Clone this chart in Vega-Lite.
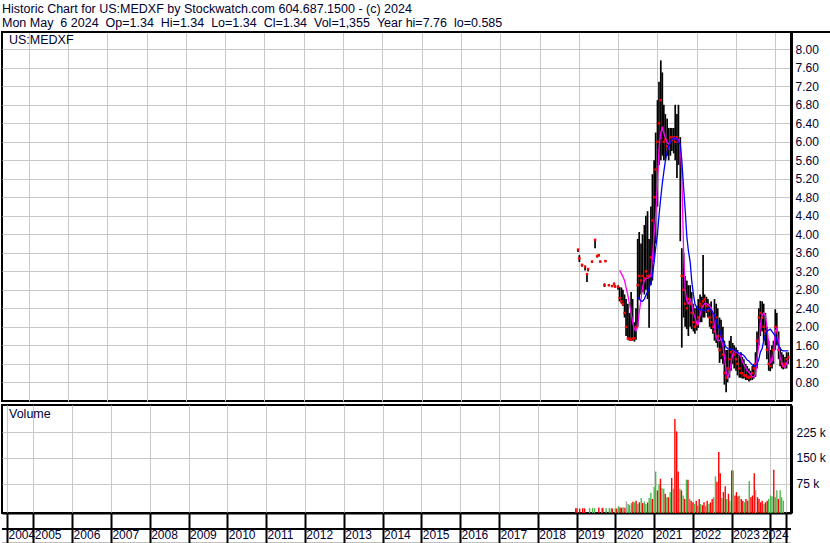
{
  "$schema": "https://vega.github.io/schema/vega-lite/v6.json",
  "background": "white",
  "padding": {"left": 0, "top": 2, "right": 0, "bottom": 0},
  "autosize": {"type": "pad"},
  "spacing": 2,
  "config": {
    "font": "Liberation Sans",
    "view": {"stroke": "black", "strokeWidth": 2},
    "axis": {"labelFont": "Liberation Sans", "labelFontSize": 12, "labelColor": "#000033", "gridColor": "#c8c8c8", "gridWidth": 1, "gridOpacity": 1, "tickCount": 40}
  },
  "title": {
    "text": ["Historic Chart for US:MEDXF by Stockwatch.com 604.687.1500 - (c) 2024", "Mon May \u00a06 2024 \u00a0Op=1.34 \u00a0Hi=1.34 \u00a0Lo=1.34 \u00a0Cl=1.34 \u00a0Vol=1,355 \u00a0Year hi=7.76 \u00a0lo=0.585"],
    "anchor": "start", "frame": "bounds", "fontSize": 12.5, "fontWeight": "normal", "font": "Liberation Sans", "color": "#000033", "lineHeight": 14, "offset": 1, "dx": 2
  },
  "datasets": {
    "price": [
      {"d": "2018-12-25", "h": 3.68, "l": 3.62, "c": 3.67, "m1": null, "m2": null},
      {"d": "2019-01-06", "h": 3.55, "l": 3.40, "c": 3.48, "m1": null, "m2": null},
      {"d": "2019-01-31", "h": 3.36, "l": 3.30, "c": 3.34, "m1": null, "m2": null},
      {"d": "2019-02-28", "h": 3.32, "l": 3.22, "c": 3.30, "m1": null, "m2": null},
      {"d": "2019-03-18", "h": 3.16, "l": 2.97, "c": 3.14, "m1": null, "m2": null},
      {"d": "2019-03-28", "h": 3.27, "l": 3.20, "c": 3.25, "m1": null, "m2": null},
      {"d": "2019-05-04", "h": 3.43, "l": 3.38, "c": 3.41, "m1": null, "m2": null},
      {"d": "2019-06-01", "h": 3.90, "l": 3.70, "c": 3.88, "m1": null, "m2": null},
      {"d": "2019-06-20", "h": 3.55, "l": 3.50, "c": 3.53, "m1": null, "m2": null},
      {"d": "2019-07-05", "h": 3.57, "l": 3.52, "c": 3.55, "m1": null, "m2": null},
      {"d": "2019-07-20", "h": 3.43, "l": 3.39, "c": 3.41, "m1": null, "m2": null},
      {"d": "2019-08-28", "h": 2.94, "l": 2.86, "c": 2.90, "m1": null, "m2": null},
      {"d": "2019-09-05", "h": 3.44, "l": 3.40, "c": 3.42, "m1": null, "m2": null},
      {"d": "2019-10-07", "h": 2.92, "l": 2.88, "c": 2.90, "m1": null, "m2": null},
      {"d": "2019-11-06", "h": 2.90, "l": 2.86, "c": 2.88, "m1": null, "m2": null},
      {"d": "2019-11-25", "h": 2.95, "l": 2.90, "c": 2.93, "m1": null, "m2": null},
      {"d": "2019-12-04", "h": 2.90, "l": 2.85, "c": 2.87, "m1": null, "m2": null},
      {"d": "2020-01-01", "h": 2.90, "l": 2.80, "c": 2.86, "m1": null, "m2": null},
      {"d": "2020-01-15", "h": 2.86, "l": 2.55, "c": 2.62, "m1": 3.22, "m2": null},
      {"d": "2020-02-01", "h": 2.85, "l": 2.50, "c": 2.55, "m1": 3.15, "m2": null},
      {"d": "2020-02-15", "h": 2.80, "l": 2.45, "c": 2.49, "m1": 3.08, "m2": null},
      {"d": "2020-03-01", "h": 2.70, "l": 2.20, "c": 2.30, "m1": 3.00, "m2": null},
      {"d": "2020-03-15", "h": 2.60, "l": 1.80, "c": 2.00, "m1": 2.85, "m2": null},
      {"d": "2020-04-01", "h": 2.50, "l": 1.72, "c": 1.75, "m1": 2.68, "m2": null},
      {"d": "2020-04-15", "h": 2.30, "l": 1.70, "c": 1.74, "m1": 2.50, "m2": null},
      {"d": "2020-05-01", "h": 2.75, "l": 1.70, "c": 1.72, "m1": 2.30, "m2": null},
      {"d": "2020-05-15", "h": 2.60, "l": 1.70, "c": 1.75, "m1": 2.10, "m2": null},
      {"d": "2020-06-01", "h": 2.10, "l": 1.68, "c": 1.75, "m1": 1.95, "m2": null},
      {"d": "2020-06-15", "h": 2.40, "l": 1.72, "c": 2.00, "m1": 1.91, "m2": null},
      {"d": "2020-07-01", "h": 3.90, "l": 2.00, "c": 2.90, "m1": 2.00, "m2": 2.65},
      {"d": "2020-07-15", "h": 4.05, "l": 2.60, "c": 3.10, "m1": 2.30, "m2": 2.60},
      {"d": "2020-08-01", "h": 3.80, "l": 2.70, "c": 3.00, "m1": 2.60, "m2": 2.56},
      {"d": "2020-08-15", "h": 4.00, "l": 2.75, "c": 3.10, "m1": 2.85, "m2": 2.55},
      {"d": "2020-09-01", "h": 4.20, "l": 2.70, "c": 3.05, "m1": 3.00, "m2": 2.60},
      {"d": "2020-09-15", "h": 4.40, "l": 2.80, "c": 3.20, "m1": 3.04, "m2": 2.68},
      {"d": "2020-10-01", "h": 4.50, "l": 2.60, "c": 3.10, "m1": 3.05, "m2": 2.75},
      {"d": "2020-10-15", "h": 3.90, "l": 1.98, "c": 3.10, "m1": 3.06, "m2": 2.85},
      {"d": "2020-11-01", "h": 4.60, "l": 2.90, "c": 3.50, "m1": 3.10, "m2": 2.95},
      {"d": "2020-11-15", "h": 5.30, "l": 3.00, "c": 4.30, "m1": 3.50, "m2": 3.10},
      {"d": "2020-12-01", "h": 5.60, "l": 3.40, "c": 4.80, "m1": 4.00, "m2": 3.40},
      {"d": "2020-12-15", "h": 6.20, "l": 3.80, "c": 5.40, "m1": 4.40, "m2": 3.70},
      {"d": "2021-01-01", "h": 6.90, "l": 4.60, "c": 6.00, "m1": 5.10, "m2": 4.00},
      {"d": "2021-01-15", "h": 7.30, "l": 5.50, "c": 6.40, "m1": 5.85, "m2": 4.40},
      {"d": "2021-02-01", "h": 7.76, "l": 5.60, "c": 6.90, "m1": 6.20, "m2": 4.80},
      {"d": "2021-02-15", "h": 7.50, "l": 5.70, "c": 6.30, "m1": 6.30, "m2": 5.10},
      {"d": "2021-03-01", "h": 6.80, "l": 5.60, "c": 6.00, "m1": 6.20, "m2": 5.35},
      {"d": "2021-03-15", "h": 6.60, "l": 5.60, "c": 6.05, "m1": 6.08, "m2": 5.58},
      {"d": "2021-04-01", "h": 6.50, "l": 5.70, "c": 5.90, "m1": 6.00, "m2": 5.78},
      {"d": "2021-04-15", "h": 6.30, "l": 5.60, "c": 5.85, "m1": 5.95, "m2": 5.90},
      {"d": "2021-05-01", "h": 6.30, "l": 5.70, "c": 6.10, "m1": 6.00, "m2": 6.00},
      {"d": "2021-05-15", "h": 6.30, "l": 5.80, "c": 6.05, "m1": 6.05, "m2": 6.05},
      {"d": "2021-06-01", "h": 6.30, "l": 5.75, "c": 6.10, "m1": 6.07, "m2": 6.08},
      {"d": "2021-06-15", "h": 6.80, "l": 5.60, "c": 6.00, "m1": 6.07, "m2": 6.09},
      {"d": "2021-07-01", "h": 6.60, "l": 5.22, "c": 6.10, "m1": 6.06, "m2": 6.06},
      {"d": "2021-07-15", "h": 6.80, "l": 5.50, "c": 6.00, "m1": 6.05, "m2": 6.00},
      {"d": "2021-08-01", "h": 6.10, "l": 3.85, "c": 5.70, "m1": 5.90, "m2": 5.95},
      {"d": "2021-08-15", "h": 3.70, "l": 1.55, "c": 3.10, "m1": 5.30, "m2": 5.60},
      {"d": "2021-09-01", "h": 3.60, "l": 2.20, "c": 2.80, "m1": 3.60, "m2": 5.00},
      {"d": "2021-09-15", "h": 3.10, "l": 2.00, "c": 2.50, "m1": 2.80, "m2": 4.55},
      {"d": "2021-10-01", "h": 3.00, "l": 1.95, "c": 2.40, "m1": 2.55, "m2": 3.95},
      {"d": "2021-10-15", "h": 2.90, "l": 1.80, "c": 2.60, "m1": 2.50, "m2": 3.65},
      {"d": "2021-11-01", "h": 2.90, "l": 2.00, "c": 2.50, "m1": 2.60, "m2": 3.40},
      {"d": "2021-11-15", "h": 2.75, "l": 1.95, "c": 2.30, "m1": 2.50, "m2": 3.00},
      {"d": "2021-12-01", "h": 2.50, "l": 1.90, "c": 2.10, "m1": 2.30, "m2": 2.70},
      {"d": "2021-12-15", "h": 2.40, "l": 1.85, "c": 2.00, "m1": 2.20, "m2": 2.50},
      {"d": "2022-01-01", "h": 2.45, "l": 1.92, "c": 2.05, "m1": 2.08, "m2": 2.42},
      {"d": "2022-01-15", "h": 2.60, "l": 1.98, "c": 2.20, "m1": 2.05, "m2": 2.37},
      {"d": "2022-02-01", "h": 2.70, "l": 2.10, "c": 2.50, "m1": 2.25, "m2": 2.37},
      {"d": "2022-02-15", "h": 2.65, "l": 2.10, "c": 2.45, "m1": 2.40, "m2": 2.38},
      {"d": "2022-03-01", "h": 3.55, "l": 2.20, "c": 2.55, "m1": 2.45, "m2": 2.35},
      {"d": "2022-03-15", "h": 2.70, "l": 2.20, "c": 2.60, "m1": 2.50, "m2": 2.35},
      {"d": "2022-04-01", "h": 2.65, "l": 2.30, "c": 2.45, "m1": 2.50, "m2": 2.37},
      {"d": "2022-04-15", "h": 2.60, "l": 2.20, "c": 2.35, "m1": 2.48, "m2": 2.39},
      {"d": "2022-05-01", "h": 2.50, "l": 2.00, "c": 2.20, "m1": 2.45, "m2": 2.39},
      {"d": "2022-05-15", "h": 2.55, "l": 1.95, "c": 2.10, "m1": 2.40, "m2": 2.37},
      {"d": "2022-06-01", "h": 2.30, "l": 1.85, "c": 2.00, "m1": 2.30, "m2": 2.30},
      {"d": "2022-06-15", "h": 2.60, "l": 1.70, "c": 1.90, "m1": 2.00, "m2": 2.25},
      {"d": "2022-07-01", "h": 2.50, "l": 1.65, "c": 2.20, "m1": 1.78, "m2": 2.15},
      {"d": "2022-07-15", "h": 2.40, "l": 1.55, "c": 1.80, "m1": 1.70, "m2": 2.05},
      {"d": "2022-08-01", "h": 2.20, "l": 1.22, "c": 1.50, "m1": 1.70, "m2": 1.93},
      {"d": "2022-08-15", "h": 2.15, "l": 1.30, "c": 1.80, "m1": 1.76, "m2": 1.80},
      {"d": "2022-09-01", "h": 2.00, "l": 1.20, "c": 1.40, "m1": 1.60, "m2": 1.70},
      {"d": "2022-09-15", "h": 1.70, "l": 0.75, "c": 1.00, "m1": 1.35, "m2": 1.62},
      {"d": "2022-10-01", "h": 1.50, "l": 0.585, "c": 0.90, "m1": 1.05, "m2": 1.56},
      {"d": "2022-10-15", "h": 1.50, "l": 0.80, "c": 1.10, "m1": 0.90, "m2": 1.53},
      {"d": "2022-11-01", "h": 1.70, "l": 0.90, "c": 1.30, "m1": 1.00, "m2": 1.52},
      {"d": "2022-11-15", "h": 1.80, "l": 1.05, "c": 1.45, "m1": 1.20, "m2": 1.52},
      {"d": "2022-12-01", "h": 1.65, "l": 1.20, "c": 1.50, "m1": 1.40, "m2": 1.51},
      {"d": "2022-12-15", "h": 1.60, "l": 1.10, "c": 1.40, "m1": 1.47, "m2": 1.49},
      {"d": "2023-01-01", "h": 1.55, "l": 1.05, "c": 1.30, "m1": 1.45, "m2": 1.47},
      {"d": "2023-01-15", "h": 1.50, "l": 0.95, "c": 1.20, "m1": 1.43, "m2": 1.44},
      {"d": "2023-02-01", "h": 1.40, "l": 0.90, "c": 1.10, "m1": 1.40, "m2": 1.43},
      {"d": "2023-02-15", "h": 1.45, "l": 0.90, "c": 1.00, "m1": 1.35, "m2": 1.42},
      {"d": "2023-03-01", "h": 1.35, "l": 0.88, "c": 1.00, "m1": 1.25, "m2": 1.40},
      {"d": "2023-03-15", "h": 1.30, "l": 0.88, "c": 0.95, "m1": 1.18, "m2": 1.38},
      {"d": "2023-04-01", "h": 1.20, "l": 0.85, "c": 0.95, "m1": 1.12, "m2": 1.33},
      {"d": "2023-04-15", "h": 1.15, "l": 0.85, "c": 0.92, "m1": 1.05, "m2": 1.28},
      {"d": "2023-05-01", "h": 1.10, "l": 0.82, "c": 0.90, "m1": 1.02, "m2": 1.26},
      {"d": "2023-05-15", "h": 1.05, "l": 0.84, "c": 0.92, "m1": 0.98, "m2": 1.22},
      {"d": "2023-06-01", "h": 1.15, "l": 0.85, "c": 1.00, "m1": 0.92, "m2": 1.18},
      {"d": "2023-06-15", "h": 1.20, "l": 0.88, "c": 1.10, "m1": 0.92, "m2": 1.15},
      {"d": "2023-07-01", "h": 1.45, "l": 0.92, "c": 1.20, "m1": 0.97, "m2": 1.16},
      {"d": "2023-07-15", "h": 1.90, "l": 1.10, "c": 1.70, "m1": 1.30, "m2": 1.19},
      {"d": "2023-08-01", "h": 2.40, "l": 1.60, "c": 2.20, "m1": 1.60, "m2": 1.30},
      {"d": "2023-08-15", "h": 2.56, "l": 1.80, "c": 2.30, "m1": 2.05, "m2": 1.45},
      {"d": "2023-09-01", "h": 2.55, "l": 1.90, "c": 2.20, "m1": 2.25, "m2": 1.53},
      {"d": "2023-09-15", "h": 2.50, "l": 1.70, "c": 2.00, "m1": 2.30, "m2": 1.70},
      {"d": "2023-10-01", "h": 2.30, "l": 1.60, "c": 1.90, "m1": 2.25, "m2": 1.82},
      {"d": "2023-10-15", "h": 2.00, "l": 1.30, "c": 1.50, "m1": 2.00, "m2": 1.90},
      {"d": "2023-11-01", "h": 1.70, "l": 1.05, "c": 1.20, "m1": 1.62, "m2": 1.93},
      {"d": "2023-11-15", "h": 1.50, "l": 1.04, "c": 1.15, "m1": 1.22, "m2": 1.95},
      {"d": "2023-12-01", "h": 1.60, "l": 1.10, "c": 1.30, "m1": 1.25, "m2": 1.90},
      {"d": "2023-12-15", "h": 1.70, "l": 1.20, "c": 1.50, "m1": 1.40, "m2": 1.86},
      {"d": "2024-01-01", "h": 2.38, "l": 1.50, "c": 2.00, "m1": 1.90, "m2": 1.80},
      {"d": "2024-01-15", "h": 2.30, "l": 1.60, "c": 1.90, "m1": 1.98, "m2": 1.72},
      {"d": "2024-02-01", "h": 1.90, "l": 1.30, "c": 1.50, "m1": 1.60, "m2": 1.60},
      {"d": "2024-02-15", "h": 1.55, "l": 1.15, "c": 1.30, "m1": 1.35, "m2": 1.53},
      {"d": "2024-03-01", "h": 1.45, "l": 1.10, "c": 1.20, "m1": 1.22, "m2": 1.49},
      {"d": "2024-03-15", "h": 1.40, "l": 1.08, "c": 1.15, "m1": 1.15, "m2": 1.48},
      {"d": "2024-04-01", "h": 1.35, "l": 1.10, "c": 1.20, "m1": 1.12, "m2": 1.48},
      {"d": "2024-04-15", "h": 1.45, "l": 1.10, "c": 1.30, "m1": 1.22, "m2": 1.48},
      {"d": "2024-05-01", "h": 1.45, "l": 1.20, "c": 1.34, "m1": 1.28, "m2": 1.48}
    ],
    "vol": [
      {"d": "2018-12-25", "v": 3000, "k": "down"},
      {"d": "2019-01-06", "v": 2500, "k": "down"},
      {"d": "2019-01-31", "v": 2000, "k": "down"},
      {"d": "2019-02-28", "v": 3000, "k": "down"},
      {"d": "2019-03-18", "v": 2500, "k": "down"},
      {"d": "2019-05-04", "v": 3000, "k": "up"},
      {"d": "2019-06-01", "v": 4000, "k": "up"},
      {"d": "2019-06-20", "v": 3000, "k": "up"},
      {"d": "2019-07-30", "v": 5000, "k": "down"},
      {"d": "2019-08-28", "v": 3000, "k": "up"},
      {"d": "2019-09-05", "v": 4500, "k": "down"},
      {"d": "2019-10-07", "v": 2500, "k": "up"},
      {"d": "2019-11-06", "v": 3000, "k": "up"},
      {"d": "2019-11-25", "v": 3000, "k": "up"},
      {"d": "2019-12-04", "v": 2000, "k": "down"},
      {"d": "2020-01-01", "v": 3000, "k": "up"},
      {"d": "2020-01-15", "v": 2000, "k": "down"},
      {"d": "2020-02-01", "v": 9000, "k": "up"},
      {"d": "2020-02-15", "v": 5000, "k": "down"},
      {"d": "2020-03-01", "v": 4000, "k": "down"},
      {"d": "2020-03-15", "v": 6000, "k": "up"},
      {"d": "2020-04-01", "v": 4000, "k": "down"},
      {"d": "2020-04-15", "v": 23000, "k": "flat"},
      {"d": "2020-05-01", "v": 15000, "k": "up"},
      {"d": "2020-05-15", "v": 12000, "k": "up"},
      {"d": "2020-06-01", "v": 18000, "k": "up"},
      {"d": "2020-06-15", "v": 22000, "k": "down"},
      {"d": "2020-07-01", "v": 20000, "k": "up"},
      {"d": "2020-07-15", "v": 25000, "k": "down"},
      {"d": "2020-08-01", "v": 15000, "k": "up"},
      {"d": "2020-08-15", "v": 20000, "k": "down"},
      {"d": "2020-09-01", "v": 33000, "k": "up"},
      {"d": "2020-09-15", "v": 18000, "k": "down"},
      {"d": "2020-10-01", "v": 22000, "k": "up"},
      {"d": "2020-10-15", "v": 15000, "k": "up"},
      {"d": "2020-11-01", "v": 20000, "k": "down"},
      {"d": "2020-11-15", "v": 33000, "k": "up"},
      {"d": "2020-12-01", "v": 48000, "k": "up"},
      {"d": "2020-12-15", "v": 30000, "k": "down"},
      {"d": "2021-01-01", "v": 65000, "k": "up"},
      {"d": "2021-01-15", "v": 110000, "k": "up"},
      {"d": "2021-02-01", "v": 55000, "k": "down"},
      {"d": "2021-02-15", "v": 72000, "k": "up"},
      {"d": "2021-03-01", "v": 89000, "k": "down"},
      {"d": "2021-03-15", "v": 62000, "k": "up"},
      {"d": "2021-04-01", "v": 60000, "k": "up"},
      {"d": "2021-04-15", "v": 45000, "k": "down"},
      {"d": "2021-05-01", "v": 35000, "k": "up"},
      {"d": "2021-05-15", "v": 35000, "k": "down"},
      {"d": "2021-06-01", "v": 50000, "k": "up"},
      {"d": "2021-06-15", "v": 91000, "k": "down"},
      {"d": "2021-07-01", "v": 60000, "k": "up"},
      {"d": "2021-07-15", "v": 263000, "k": "down"},
      {"d": "2021-07-24", "v": 149000, "k": "up"},
      {"d": "2021-08-01", "v": 227000, "k": "down"},
      {"d": "2021-08-15", "v": 110000, "k": "down"},
      {"d": "2021-09-01", "v": 60000, "k": "up"},
      {"d": "2021-09-15", "v": 55000, "k": "down"},
      {"d": "2021-10-01", "v": 40000, "k": "up"},
      {"d": "2021-10-15", "v": 30000, "k": "down"},
      {"d": "2021-11-01", "v": 86000, "k": "up"},
      {"d": "2021-11-15", "v": 86000, "k": "down"},
      {"d": "2021-12-01", "v": 30000, "k": "up"},
      {"d": "2021-12-15", "v": 25000, "k": "down"},
      {"d": "2022-01-01", "v": 20000, "k": "down"},
      {"d": "2022-01-15", "v": 15000, "k": "up"},
      {"d": "2022-02-01", "v": 25000, "k": "down"},
      {"d": "2022-02-15", "v": 10000, "k": "up"},
      {"d": "2022-03-01", "v": 30000, "k": "down"},
      {"d": "2022-03-15", "v": 15000, "k": "up"},
      {"d": "2022-04-01", "v": 12000, "k": "down"},
      {"d": "2022-04-15", "v": 20000, "k": "down"},
      {"d": "2022-05-01", "v": 10000, "k": "up"},
      {"d": "2022-05-15", "v": 25000, "k": "down"},
      {"d": "2022-06-01", "v": 15000, "k": "up"},
      {"d": "2022-06-15", "v": 20000, "k": "down"},
      {"d": "2022-07-01", "v": 30000, "k": "down"},
      {"d": "2022-07-15", "v": 35000, "k": "up"},
      {"d": "2022-08-01", "v": 96000, "k": "up"},
      {"d": "2022-08-15", "v": 80000, "k": "down"},
      {"d": "2022-09-01", "v": 167000, "k": "down"},
      {"d": "2022-09-15", "v": 105000, "k": "down"},
      {"d": "2022-10-01", "v": 33000, "k": "up"},
      {"d": "2022-10-15", "v": 50000, "k": "down"},
      {"d": "2022-11-01", "v": 67000, "k": "down"},
      {"d": "2022-11-15", "v": 30000, "k": "up"},
      {"d": "2022-12-01", "v": 45000, "k": "down"},
      {"d": "2022-12-15", "v": 25000, "k": "up"},
      {"d": "2023-01-01", "v": 113000, "k": "down"},
      {"d": "2023-01-15", "v": 113000, "k": "up"},
      {"d": "2023-02-01", "v": 40000, "k": "down"},
      {"d": "2023-02-15", "v": 50000, "k": "down"},
      {"d": "2023-03-01", "v": 38000, "k": "down"},
      {"d": "2023-03-15", "v": 40000, "k": "up"},
      {"d": "2023-04-01", "v": 30000, "k": "down"},
      {"d": "2023-04-15", "v": 25000, "k": "down"},
      {"d": "2023-05-01", "v": 20000, "k": "up"},
      {"d": "2023-05-15", "v": 30000, "k": "down"},
      {"d": "2023-06-01", "v": 25000, "k": "down"},
      {"d": "2023-06-15", "v": 82000, "k": "up"},
      {"d": "2023-07-01", "v": 35000, "k": "down"},
      {"d": "2023-07-15", "v": 40000, "k": "down"},
      {"d": "2023-08-01", "v": 105000, "k": "down"},
      {"d": "2023-08-15", "v": 55000, "k": "flat"},
      {"d": "2023-09-01", "v": 35000, "k": "down"},
      {"d": "2023-09-15", "v": 30000, "k": "down"},
      {"d": "2023-10-01", "v": 20000, "k": "down"},
      {"d": "2023-10-15", "v": 25000, "k": "down"},
      {"d": "2023-11-01", "v": 15000, "k": "up"},
      {"d": "2023-11-15", "v": 20000, "k": "down"},
      {"d": "2023-12-01", "v": 25000, "k": "down"},
      {"d": "2023-12-15", "v": 30000, "k": "up"},
      {"d": "2024-01-01", "v": 40000, "k": "up"},
      {"d": "2024-01-15", "v": 38000, "k": "up"},
      {"d": "2024-02-01", "v": 115000, "k": "down"},
      {"d": "2024-02-15", "v": 35000, "k": "up"},
      {"d": "2024-03-01", "v": 55000, "k": "up"},
      {"d": "2024-03-15", "v": 30000, "k": "down"},
      {"d": "2024-04-01", "v": 55000, "k": "up"},
      {"d": "2024-04-15", "v": 35000, "k": "up"},
      {"d": "2024-05-01", "v": 25000, "k": "up"}
    ]
  },
  "vconcat": [
    {
      "width": 789,
      "height": 369,
      "title": {"text": "US:MEDXF", "anchor": "start", "offset": -15, "dx": 8, "fontSize": 12.5, "fontWeight": "normal", "color": "#000033"},
      "data": {"name": "price"},
      "layer": [
        {
          "mark": {"type": "rule", "color": "black", "strokeWidth": 1.7},
          "encoding": {
            "x": {"field": "d", "type": "temporal", "scale": {"domain": ["2004-04-28", "2024-05-26"], "nice": false},
              "axis": {"values": [{"year": 2005}, {"year": 2006}, {"year": 2007}, {"year": 2008}, {"year": 2009}, {"year": 2010}, {"year": 2011}, {"year": 2012}, {"year": 2013}, {"year": 2014}, {"year": 2015}, {"year": 2016}, {"year": 2017}, {"year": 2018}, {"year": 2019}, {"year": 2020}, {"year": 2021}, {"year": 2022}, {"year": 2023}, {"year": 2024}],
                "tickCount": 40, "grid": true, "labels": false, "ticks": false, "domain": false, "title": null}},
            "y": {"field": "l", "type": "quantitative", "scale": {"domain": [0.396, 8.374], "nice": false, "zero": false},
              "axis": {"orient": "right", "values": [0.8, 1.2, 1.6, 2.0, 2.4, 2.8, 3.2, 3.6, 4.0, 4.4, 4.8, 5.2, 5.6, 6.0, 6.4, 6.8, 7.2, 7.6, 8.0], "tickCount": 40, "format": ".2f", "grid": true, "ticks": false, "domain": true, "domainColor": "black", "domainWidth": 3, "labelPadding": 4, "labelOverlap": false, "labelBound": false, "labelFlush": false, "title": null}},
            "y2": {"field": "h"}
          }
        },
        {
          "mark": {"type": "square", "color": "#ff0000", "size": 6, "opacity": 1},
          "encoding": {
            "x": {"field": "d", "type": "temporal"},
            "y": {"field": "c", "type": "quantitative"}
          }
        },
        {
          "mark": {"type": "line", "color": "#ff00ff", "strokeWidth": 1.3},
          "encoding": {
            "x": {"field": "d", "type": "temporal"},
            "y": {"field": "m1", "type": "quantitative"}
          }
        },
        {
          "mark": {"type": "line", "color": "#0000ff", "strokeWidth": 1.3},
          "encoding": {
            "x": {"field": "d", "type": "temporal"},
            "y": {"field": "m2", "type": "quantitative"}
          }
        },
        {
          "data": {"values": [{"row": "header"}]},
          "mark": {"type": "rule", "color": "black", "strokeWidth": 2},
          "encoding": {
            "x": {"datum": {"year": 2004, "month": 4, "date": 28}},
            "x2": {"datum": {"year": 2025, "month": 6, "date": 5}},
            "y": {"datum": 8.374}
          }
        }
      ]
    },
    {
      "width": 789,
      "height": 108,
      "title": {"text": "Volume", "anchor": "start", "offset": -15, "dx": 8, "fontSize": 12.5, "fontWeight": "normal", "color": "#000033"},
      "layer": [
        {
          "data": {"name": "vol"},
          "mark": {"type": "bar", "width": 1.4},
          "encoding": {
            "x": {"field": "d", "type": "temporal", "scale": {"domain": ["2004-04-28", "2024-05-26"], "nice": false},
              "axis": {"values": [{"year": 2004, "month": 4, "date": 28}, {"year": 2005}, {"year": 2006}, {"year": 2007}, {"year": 2008}, {"year": 2009}, {"year": 2010}, {"year": 2011}, {"year": 2012}, {"year": 2013}, {"year": 2014}, {"year": 2015}, {"year": 2016}, {"year": 2017}, {"year": 2018}, {"year": 2019}, {"year": 2020}, {"year": 2021}, {"year": 2022}, {"year": 2023}, {"year": 2024}, {"year": 2024, "month": 5, "date": 26}],
                "tickCount": 40,
                "labelExpr": "datum.value >= datetime(2024, 4, 20) ? '' : timeFormat(datum.value, '%Y')",
                "grid": true, "tickSize": 31, "tickColor": "black", "tickWidth": 2, "domainColor": "black", "domainWidth": 2,
                "labelAlign": "left", "labelBaseline": "top", "labelPadding": -15,
                "labelOffset": {"condition": {"test": "year(datum.value) == 2024", "value": -9}, "value": 1},
                "labelFlush": false, "labelOverlap": false, "labelBound": false, "title": null}},
            "y": {"field": "v", "type": "quantitative", "scale": {"domain": [-11000, 304000], "nice": false, "zero": false},
              "axis": {"orient": "right", "values": [75000, 150000, 225000], "tickCount": 40, "labelExpr": "format(datum.value / 1000, 'd') + ' k'", "grid": true, "ticks": false, "domain": true, "domainColor": "black", "domainWidth": 3, "labelPadding": 5, "labelOverlap": false, "labelFlush": false, "title": null}},
            "y2": {"datum": -11000},
            "color": {"field": "k", "type": "nominal", "scale": {"domain": ["up", "down", "flat"], "range": ["#4db84d", "#ff0000", "#a8a8a8"]}, "legend": null}
          }
        },
        {
          "data": {"values": [{"row": "mid"}]},
          "mark": {"type": "rule", "color": "black", "strokeWidth": 2},
          "encoding": {"y": {"datum": -57700}}
        },
        {
          "data": {"values": [{"row": "bottom"}]},
          "mark": {"type": "rule", "color": "black", "strokeWidth": 2},
          "encoding": {"y": {"datum": -101000}}
        }
      ]
    }
  ]
}
